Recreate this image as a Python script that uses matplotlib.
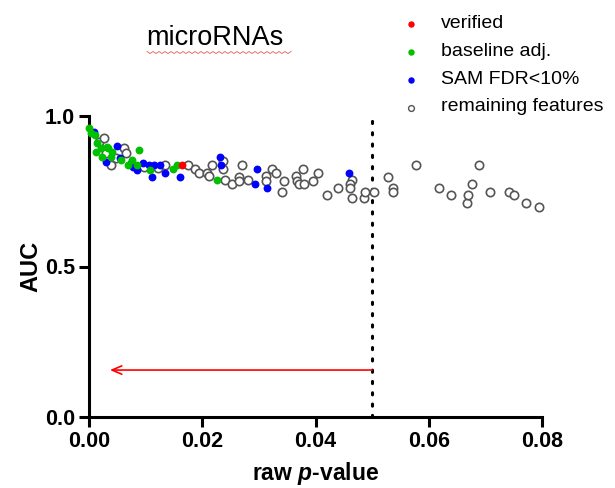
import matplotlib
matplotlib.use("Agg")
import matplotlib.pyplot as plt
from matplotlib.lines import Line2D
import numpy as np

plt.rcParams['font.family'] = ['Liberation Sans', 'DejaVu Sans']
plt.rcParams['mathtext.fontset'] = 'custom'
plt.rcParams['mathtext.bfit'] = 'Liberation Sans:bold:italic'

# ---------------- data ----------------
verified_p = [0.0165]
verified_auc = [0.837]

baseline_p = [0.0000, 0.0004, 0.0011, 0.0015, 0.0012, 0.0021, 0.0032, 0.0023,
              0.0038, 0.0041, 0.0056, 0.0068, 0.0076, 0.0085, 0.0088, 0.0108,
              0.0148, 0.0156, 0.0226, 0.0033]
baseline_auc = [0.959, 0.945, 0.937, 0.909, 0.881, 0.893, 0.898, 0.865,
                0.865, 0.881, 0.854, 0.837, 0.854, 0.837, 0.887, 0.821,
                0.823, 0.837, 0.787, 0.893]

sam_p = [0.0009, 0.0030, 0.0050, 0.0055, 0.0074, 0.0085, 0.0096, 0.0106,
         0.0112, 0.0114, 0.0125, 0.0134, 0.0160, 0.0231, 0.0233, 0.0296,
         0.0294, 0.0314, 0.0460, 0.0078]
sam_auc = [0.948, 0.848, 0.900, 0.859, 0.843, 0.821, 0.845, 0.837,
           0.798, 0.837, 0.837, 0.810, 0.798, 0.863, 0.837, 0.823,
           0.774, 0.760, 0.811, 0.832]

remaining_p = [0.0018, 0.0026, 0.0030, 0.0038, 0.0047, 0.0061, 0.0065, 0.0097,
               0.0121, 0.0134, 0.0175, 0.0187, 0.0195, 0.0209, 0.0212, 0.0218,
               0.0237, 0.0236, 0.0241, 0.0252, 0.0265, 0.0265, 0.0270, 0.0281,
               0.0313, 0.0313, 0.0324, 0.0330, 0.0344, 0.0341, 0.0365, 0.0367,
               0.0371, 0.0378, 0.0380, 0.0395, 0.0404, 0.0420, 0.0439, 0.0464,
               0.0461, 0.0461, 0.0464, 0.0485, 0.0487, 0.0504, 0.0528, 0.0536,
               0.0536, 0.0577, 0.0618, 0.0640, 0.0667, 0.0670, 0.0676, 0.0689,
               0.0708, 0.0742, 0.0751, 0.0771, 0.0795]
remaining_auc = [0.915, 0.926, 0.876, 0.837, 0.859, 0.893, 0.876, 0.832,
                 0.826, 0.837, 0.837, 0.823, 0.810, 0.810, 0.802, 0.837,
                 0.850, 0.823, 0.787, 0.774, 0.798, 0.785, 0.837, 0.787,
                 0.800, 0.785, 0.823, 0.811, 0.785, 0.749, 0.800, 0.785,
                 0.773, 0.823, 0.773, 0.785, 0.811, 0.736, 0.761, 0.786,
                 0.773, 0.760, 0.726, 0.726, 0.749, 0.749, 0.799, 0.762,
                 0.749, 0.836, 0.762, 0.736, 0.711, 0.736, 0.774, 0.836,
                 0.749, 0.749, 0.736, 0.711, 0.698]

legend_labels = ["verified", "baseline adj.", "SAM FDR<10%", "remaining features"]
x_ticks = [0.00, 0.02, 0.04, 0.06, 0.08]
x_tick_labels = ["0.00", "0.02", "0.04", "0.06", "0.08"]
y_ticks = [0.0, 0.5, 1.0]
y_tick_labels = ["0.0", "0.5", "1.0"]
cutoff_p = 0.05
arrow_auc = 0.156
arrow_end_p = 0.0037

# ---------------- figure ----------------
fig = plt.figure(figsize=(6.15, 4.88), dpi=100)
ax = fig.add_axes([89/615, 1-417/488, (542-89)/615, (417-116)/488])

ax.set_xlim(0, 0.08)
ax.set_ylim(0, 1.0)

RED, GREEN, BLUE = '#ff0000', '#00c000', '#0000ff'

ax.scatter(remaining_p, remaining_auc, s=36, facecolors='white', edgecolors='#555555',
           linewidths=1.2, zorder=3, clip_on=False)
ax.scatter(sam_p, sam_auc, s=32, color=BLUE, linewidths=0, zorder=4, clip_on=False)
ax.scatter(baseline_p, baseline_auc, s=32, color=GREEN, linewidths=0, zorder=5, clip_on=False)
ax.scatter(verified_p, verified_auc, s=32, color=RED, linewidths=0, zorder=6, clip_on=False)

# dotted cutoff line
ax.plot([cutoff_p, cutoff_p], [0, 1.0], color='black', lw=2.2,
        linestyle=(0, (0.7, 3.0)), dash_capstyle='round', zorder=2, clip_on=False)

# red arrow
ax.annotate("", xy=(arrow_end_p, arrow_auc), xytext=(cutoff_p, arrow_auc),
            arrowprops=dict(arrowstyle='->,head_length=0.7,head_width=0.3',
                            color=RED, lw=1.2, shrinkA=0, shrinkB=0), zorder=2)

# spines
for s in ['top', 'right']:
    ax.spines[s].set_visible(False)
for s in ['left', 'bottom']:
    ax.spines[s].set_linewidth(2.2)
    ax.spines[s].set_capstyle('projecting')

ax.set_xticks(x_ticks)
ax.set_xticklabels(x_tick_labels, fontsize=15.5, fontweight='bold')
ax.set_yticks(y_ticks)
ax.set_yticklabels(y_tick_labels, fontsize=15.5, fontweight='bold')
ax.tick_params(axis='both', direction='out', length=7, width=2.2, pad=3)

ax.set_xlabel(r"raw $\boldsymbol{p}$-value", fontsize=16.5, fontweight='bold', labelpad=6)
ax.set_ylabel("AUC", fontsize=17, fontweight='bold', labelpad=2)

# title
fig.text(215/615, 1-38/488, "microRNAs", fontsize=19.5, ha='center', va='center')
# spell-check squiggle under title
sx = np.linspace(147, 291, 49)
sy = np.where(np.arange(49) % 2 == 0, 51.5, 53.5)
fig.add_artist(Line2D(sx/615, 1-sy/488, color='#e03030', lw=0.6, alpha=0.8))

# legend (manual)
leg_y = [24, 52, 80, 107.5]
styles = [dict(marker='o', color=RED, ms=3.6, mec=RED, lw=0),
          dict(marker='o', color=GREEN, ms=3.6, mec=GREEN, lw=0),
          dict(marker='o', color=BLUE, ms=3.6, mec=BLUE, lw=0),
          dict(marker='o', color='white', ms=4.2, mec='#555555', mew=1.0, lw=0)]
for lab, yy, st in zip(legend_labels, leg_y, styles):
    fig.add_artist(Line2D([411/615], [1-yy/488], **st))
    fig.text(441/615, 1-(yy-1)/488, lab, fontsize=14, ha='left', va='center')

fig.savefig("out.png", dpi=100)
